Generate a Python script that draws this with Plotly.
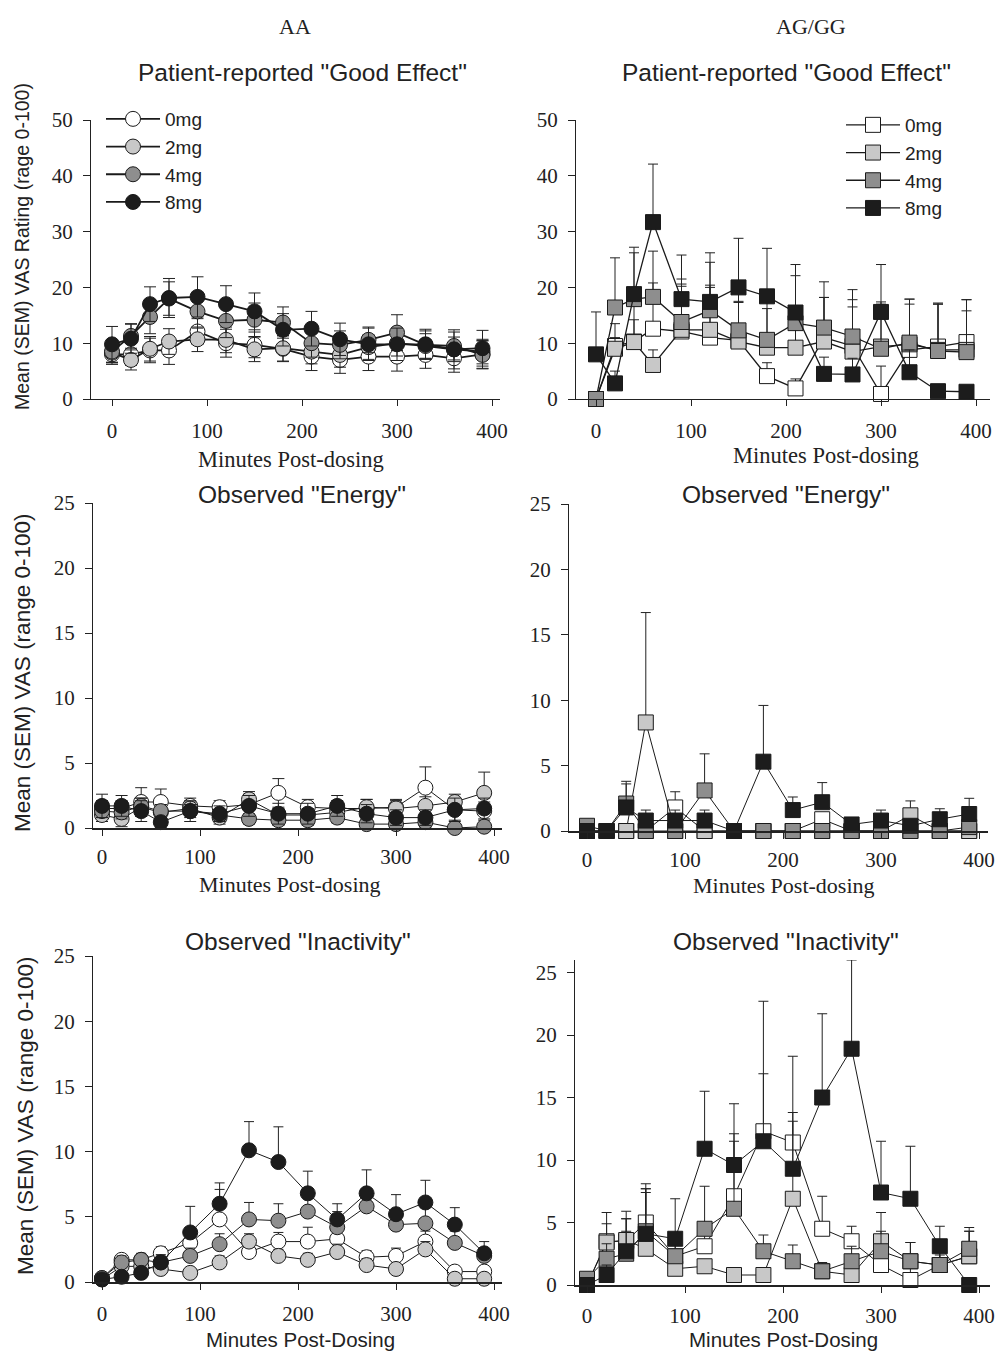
import plotly.graph_objects as go

W, H = 999, 1352


def px(x):
    return x / W


def py(y):
    return 1 - y / H


# ---------------- data ----------------
times = [0, 20, 40, 60, 90, 120, 150, 180, 210, 240, 270, 300, 330, 360, 390]
doses = ["0mg", "2mg", "4mg", "8mg"]
fills = ["#ffffff", "#c8c8c8", "#8e8e8e", "#1c1c1c"]

# AA - Patient-reported "Good Effect"
aa_good_mean = [
    [8.0, 8.0, 8.7, 8.7, 12.1, 10.0, 9.7, 9.0, 7.6, 7.0, 7.6, 7.6, 7.9, 7.3, 8.0],
    [8.3, 7.0, 9.0, 10.3, 10.7, 10.6, 8.9, 9.1, 8.5, 7.9, 9.3, 10.0, 9.5, 8.9, 8.5],
    [8.5, 11.3, 14.7, 18.0, 15.7, 14.0, 14.2, 13.7, 10.0, 9.7, 10.6, 11.9, 9.7, 9.5, 7.9],
    [9.8, 10.8, 17.0, 18.1, 18.3, 17.0, 15.7, 12.4, 12.6, 10.7, 9.8, 9.8, 9.8, 8.9, 9.1],
]
aa_good_sem = [
    [1.8, 2.0, 2.2, 2.5, 2.3, 2.5, 2.3, 2.3, 2.5, 2.4, 2.5, 2.6, 2.4, 2.5, 2.5],
    [1.8, 1.8, 2.2, 2.3, 2.2, 2.3, 2.2, 2.3, 2.2, 2.2, 2.2, 2.3, 2.2, 2.2, 2.2],
    [2.0, 2.2, 3.0, 3.0, 3.0, 3.0, 3.0, 2.8, 2.5, 2.5, 2.3, 3.2, 2.5, 2.5, 2.5],
    [3.2, 2.6, 3.1, 3.5, 3.6, 3.3, 3.3, 2.9, 3.1, 2.9, 2.9, 2.9, 2.7, 3.5, 3.2],
]

# AG/GG - Patient-reported "Good Effect"
ag_good_mean = [
    [0.0, 9.5, 10.3, 12.6, 12.1, 11.0, 10.5, 4.1, 1.9, 11.0, 9.5, 0.9, 8.8, 9.4, 10.2],
    [0.0, 9.0, 10.2, 6.1, 12.4, 12.4, 10.3, 9.2, 9.2, 10.3, 8.5, 9.4, 9.8, 8.8, 8.8],
    [0.0, 16.4, 17.9, 18.3, 13.8, 15.9, 12.3, 10.6, 13.6, 12.8, 11.2, 9.0, 10.1, 8.6, 8.4],
    [8.0, 2.8, 18.8, 31.7, 17.9, 17.4, 20.0, 18.4, 15.5, 4.5, 4.4, 15.6, 4.8, 1.4, 1.3],
]
ag_good_sem = [
    [0.0, 4.0, 6.5, 8.2, 8.5, 9.0, 7.0, 2.4, 1.7, 7.2, 8.3, 5.0, 9.1, 7.8, 7.6],
    [0.0, 2.0, 4.0, 2.7, 7.8, 8.0, 7.0, 7.0, 6.0, 7.9, 8.0, 8.0, 7.2, 8.2, 7.0],
    [0.0, 8.9, 8.3, 8.2, 7.7, 8.6, 8.0, 8.0, 8.5, 8.2, 8.4, 8.0, 7.8, 8.4, 9.4],
    [7.6, 2.2, 8.4, 10.4, 7.9, 8.8, 8.8, 8.6, 8.6, 3.0, 2.9, 8.5, 4.0, 0.0, 0.0],
]

# AA - Observed "Energy"
aa_energy_mean = [
    [1.5, 1.5, 2.0, 2.0, 1.7, 1.6, 1.8, 2.7, 1.6, 1.5, 1.5, 1.6, 3.1, 1.4, 1.3],
    [1.0, 0.7, 1.6, 1.2, 1.5, 0.8, 2.2, 1.0, 1.0, 1.2, 1.6, 1.5, 1.7, 2.0, 2.7],
    [1.3, 1.2, 1.7, 1.3, 1.3, 1.0, 0.7, 0.6, 0.6, 0.8, 0.3, 0.3, 0.45, 0.0, 0.1],
    [1.7, 1.7, 1.3, 0.45, 1.3, 1.1, 1.7, 1.1, 1.1, 1.7, 1.1, 0.8, 0.8, 1.4, 1.5],
]
aa_energy_sem = [
    [0.6, 0.6, 1.1, 1.0, 0.6, 0.5, 0.8, 1.1, 0.6, 0.6, 0.7, 0.6, 1.6, 0.8, 0.7],
    [0.5, 0.6, 0.7, 0.6, 0.5, 0.5, 0.6, 0.5, 0.5, 0.5, 0.6, 0.6, 0.7, 0.6, 1.6],
    [0.5, 0.5, 0.6, 0.5, 0.5, 0.4, 0.4, 0.4, 0.4, 0.4, 0.3, 0.3, 0.4, 0.2, 0.2],
    [0.9, 0.8, 0.8, 0.4, 0.8, 0.6, 0.8, 0.8, 0.8, 0.8, 0.7, 0.6, 0.6, 0.9, 0.8],
]

# AG/GG - Observed "Energy"
ag_energy_mean = [
    [0, 0, 0, 0, 1.8, 0, 0, 0, 0, 0.9, 0, 0, 0, 0, 0],
    [0, 0, 0, 8.3, 0, 0, 0, 0, 0, 0, 0, 0, 1.2, 0, 0],
    [0.4, 0, 2.1, 0, 0, 3.1, 0, 0, 0, 0, 0, 0, 0, 0, 0.3],
    [0, 0, 1.8, 0.8, 0.8, 0.8, 0, 5.3, 1.6, 2.2, 0.5, 0.8, 0.4, 0.9, 1.3],
]
ag_energy_sem = [
    [0, 0, 0, 0, 1.2, 0, 0, 0, 0, 0.4, 0, 0, 0, 0, 0],
    [0, 0, 0, 8.4, 0, 0, 0, 0, 0, 0, 0, 0, 1.1, 0, 0],
    [0, 0, 1.5, 0, 0, 2.8, 0, 0, 0, 0, 0, 0, 0, 0, 0.3],
    [0, 0, 2.0, 0.8, 0.8, 0.8, 0, 4.3, 1.0, 1.5, 0.3, 0.8, 0.3, 0.8, 1.2],
]

# AA - Observed "Inactivity"
aa_inact_mean = [
    [0.3, 1.7, 1.7, 2.2, 3.0, 4.8, 2.3, 3.1, 3.1, 3.3, 1.9, 2.0, 3.1, 0.8, 0.8],
    [0.2, 1.2, 1.2, 1.0, 0.7, 1.5, 3.1, 2.0, 1.7, 2.3, 1.3, 1.0, 2.5, 0.25, 0.25],
    [0.3, 1.5, 1.7, 1.5, 2.0, 2.9, 4.8, 4.7, 5.4, 4.2, 5.8, 4.4, 4.5, 3.0, 2.0],
    [0.2, 0.4, 0.7, 1.5, 3.8, 6.0, 10.1, 9.2, 6.8, 4.8, 6.8, 5.2, 6.1, 4.4, 2.2],
]
aa_inact_sem = [
    [0.2, 0.3, 0.4, 0.5, 0.6, 2.3, 0.6, 0.7, 1.1, 0.7, 0.5, 0.6, 0.8, 0.3, 0.3],
    [0.2, 0.4, 0.4, 0.4, 0.3, 0.5, 0.6, 0.5, 0.5, 0.6, 0.5, 0.4, 0.6, 0.2, 0.2],
    [0.2, 0.5, 0.5, 0.5, 0.6, 0.8, 1.3, 1.3, 1.2, 1.2, 1.3, 1.1, 1.2, 0.9, 0.6],
    [0.1, 0.2, 0.3, 0.6, 2.0, 1.6, 2.2, 2.7, 1.7, 1.2, 1.8, 1.5, 1.7, 1.3, 0.9],
]

# AG/GG - Observed "Inactivity"
ag_inact_mean = [
    [0.0, 3.5, 3.5, 5.0, 2.3, 3.1, 7.1, 12.3, 11.4, 4.5, 3.5, 1.6, 0.4, 1.6, 2.3],
    [0.0, 3.4, 3.6, 2.9, 1.3, 1.5, 0.8, 0.8, 6.9, 1.1, 0.8, 3.5, 1.9, 1.6, 2.3],
    [0.5, 2.1, 2.5, 4.3, 2.3, 4.5, 6.1, 2.7, 1.9, 1.1, 1.9, 2.7, 1.9, 1.6, 2.9],
    [0.0, 0.8, 2.7, 4.1, 3.7, 10.9, 9.6, 11.5, 9.3, 15.0, 18.9, 7.4, 6.9, 3.1, 0.0],
]
ag_inact_sem = [
    [0.0, 2.3, 2.4, 3.1, 1.5, 1.3, 5.0, 4.6, 2.4, 2.6, 1.2, 1.7, 1.5, 1.5, 2.0],
    [0.0, 1.5, 1.7, 4.8, 1.0, 0.5, 0.5, 0.4, 6.2, 0.7, 0.6, 2.3, 1.5, 0.8, 2.0],
    [0.0, 1.2, 1.8, 3.4, 1.4, 3.4, 5.4, 1.3, 1.3, 0.5, 1.2, 1.6, 1.5, 1.2, 1.7],
    [0.0, 0.8, 2.6, 3.3, 3.2, 4.6, 4.9, 11.2, 9.0, 6.7, 7.1, 4.1, 4.2, 1.6, 0.0],
]

x_ticks = [0, 100, 200, 300, 400]

# ---------------- panel geometry (pixels) ----------------
panels = [
    dict(mean=aa_good_mean, sem=aa_good_sem, sym="circle", both=True, xdom=(83, 500), x0=112, s=0.95,
         ypos=90, ytop=120, ybot=399, yr=[0, 50], dtick=10, legend="legend", lw=1.8, cap=6, xso=7),
    dict(mean=ag_good_mean, sem=ag_good_sem, sym="square", both=False, xdom=(575, 990), x0=596, s=0.95,
         ypos=575, ytop=120, ybot=399, yr=[0, 50], dtick=10, legend="legend2", lw=1.3, cap=5, xso=7),
    dict(mean=aa_energy_mean, sem=aa_energy_sem, sym="circle", both=True, xdom=(92, 502), x0=102, s=0.98,
         ypos=92, ytop=503, ybot=828, yr=[0, 25], dtick=5, legend=None, lw=1.0, cap=6, xso=3),
    dict(mean=ag_energy_mean, sem=ag_energy_sem, sym="square", both=False, xdom=(568, 988), x0=587, s=0.98,
         ypos=568, ytop=504, ybot=831, yr=[0, 25], dtick=5, legend=None, lw=1.0, cap=5, xso=3),
    dict(mean=aa_inact_mean, sem=aa_inact_sem, sym="circle", both=False, xdom=(92, 502), x0=102, s=0.98,
         ypos=92, ytop=956, ybot=1282, yr=[0, 25], dtick=5, legend=None, lw=1.0, cap=5, xso=6),
    dict(mean=ag_inact_mean, sem=ag_inact_sem, sym="square", both=False, xdom=(574, 990), x0=587, s=0.98,
         ypos=574, ytop=960, ybot=1285, yr=[0, 26], dtick=5, legend=None, lw=1.0, cap=5, xso=5),
]

fig = go.Figure()
layout = {}
tickfont = dict(family="Liberation Serif", size=21, color="#222")

for i, p in enumerate(panels):
    n = i + 1
    xa = "x" if n == 1 else f"x{n}"
    ya = "y" if n == 1 else f"y{n}"
    for d in range(4):
        sem = p["sem"][d]
        err = dict(type="data", array=sem, symmetric=False,
                   arrayminus=sem if p["both"] else [0] * len(sem),
                   color="#222", thickness=1, width=p["cap"])
        fig.add_trace(go.Scatter(
            x=times, y=p["mean"][d], mode="lines+markers", name=doses[d],
            xaxis=xa, yaxis=ya, cliponaxis=False,
            line=dict(color="#1a1a1a", width=p["lw"]),
            marker=dict(symbol=p["sym"], size=15, color=fills[d],
                        line=dict(color="#1a1a1a", width=1)),
            error_y=err,
            showlegend=p["legend"] is not None,
            legend=p["legend"] if p["legend"] else "legend",
        ))
    xr = [(p["xdom"][0] - p["x0"]) / p["s"], (p["xdom"][1] - p["x0"]) / p["s"]]
    xkey = "xaxis" if n == 1 else f"xaxis{n}"
    ykey = "yaxis" if n == 1 else f"yaxis{n}"
    layout[xkey] = dict(
        domain=[px(p["xdom"][0]), px(p["xdom"][1])], range=xr, anchor=ya,
        tickmode="array", tickvals=x_ticks, ticks="outside", ticklen=6, tickcolor="#222",
        showline=True, linecolor="#222", linewidth=1.5 if n > 2 else 1.2,
        showgrid=False, zeroline=False, tickfont=tickfont, ticklabelstandoff=p["xso"],
        automargin=False, fixedrange=True,
    )
    layout[ykey] = dict(
        domain=[py(p["ybot"]), py(p["ytop"])], range=p["yr"], anchor="free",
        position=px(p["ypos"]), tick0=0, dtick=p["dtick"], ticks="outside", ticklen=7,
        tickcolor="#222", showline=True, linecolor="#222", linewidth=1.2,
        showgrid=False, zeroline=False, tickfont=tickfont, ticklabelstandoff=6,
        automargin=False, fixedrange=True,
    )

# ---------------- text ----------------
ann = []


def add_text(text, x, y, family, size, angle=0):
    ann.append(dict(text=text, x=px(x), y=py(y), xref="paper", yref="paper",
                    xanchor="center", yanchor="middle", showarrow=False, textangle=angle,
                    font=dict(family=family, size=size, color="#222")))


SANS = "Liberation Sans"
SERIF = "Liberation Serif"
add_text("AA", 295, 26, SERIF, 22)
add_text("AG/GG", 811, 27, SERIF, 22)
add_text('Patient-reported "Good Effect"', 302, 72, SANS, 24.5)
add_text('Patient-reported "Good Effect"', 786, 72, SANS, 24.5)
add_text('Observed "Energy"', 302, 494, SANS, 24.5)
add_text('Observed "Energy"', 786, 494, SANS, 24.5)
add_text('Observed "Inactivity"', 298, 941, SANS, 24.5)
add_text('Observed "Inactivity"', 786, 942, SANS, 24.5)
add_text("Minutes Post-dosing", 291, 459, SERIF, 22.5)
add_text("Minutes Post-dosing", 826, 456, SERIF, 22.5)
add_text("Minutes Post-dosing", 290, 884, SERIF, 22)
add_text("Minutes Post-dosing", 784, 885, SERIF, 22)
add_text("Minutes Post-Dosing", 300, 1339, SANS, 20.5)
add_text("Minutes Post-Dosing", 783, 1339, SANS, 20.5)
add_text("Mean (SEM) VAS Rating (rage 0-100)", 22, 247, SANS, 19.5, -90)
add_text("Mean (SEM) VAS (range 0-100)", 22, 673, SANS, 22.5, -90)
add_text("Mean (SEM) VAS (range 0-100)", 25, 1116, SANS, 22.5, -90)

legend_font = dict(family=SANS, size=19, color="#222")
layout.update(
    template="none",
    width=W, height=H, margin=dict(l=0, r=0, t=0, b=0, autoexpand=False),
    paper_bgcolor="white", plot_bgcolor="white",
    font=dict(family=SANS, color="#222"),
    annotations=ann,
    legend=dict(x=px(101), y=py(100), xanchor="left", yanchor="top", font=legend_font,
                bgcolor="rgba(0,0,0,0)", itemwidth=54, traceorder="normal", tracegroupgap=0),
    legend2=dict(x=px(841), y=py(106), xanchor="left", yanchor="top", font=legend_font,
                 bgcolor="rgba(0,0,0,0)", itemwidth=54, traceorder="normal", tracegroupgap=0),
)
fig.update_layout(**layout)
fig.write_html("out.html", config={"displayModeBar": False},
               post_script="document.body.style.margin='0px';")
